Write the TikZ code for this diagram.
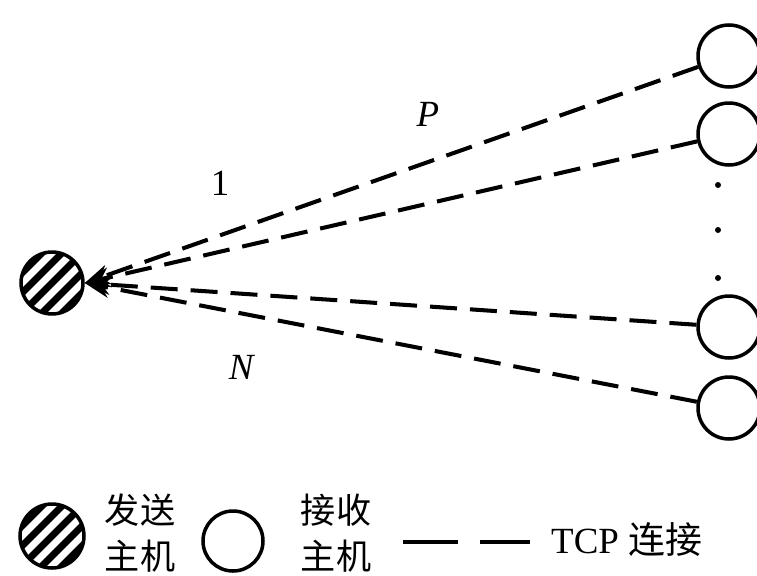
\documentclass[tikz,border=0pt]{standalone}
\usepackage{fontspec}
\setmainfont{Liberation Serif}
\newfontfamily\cjk{Noto Sans CJK SC}
\usetikzlibrary{arrows.meta}

\begin{document}
\begin{tikzpicture}[x=0.02cm,y=-0.02cm,
      sender/.style={circle,draw,line width=2pt,minimum size=1.24cm,inner sep=0pt,
      path picture={\foreach \k in {-4,...,4}{
        \draw[line width=4pt] ([shift={(\k*0.2cm-0.8cm,-\k*0.2cm-0.8cm)}]path picture bounding box.center) -- ++(1.6cm,1.6cm);}}},
      receiver/.style={circle,draw,line width=2pt,minimum size=1.24cm,inner sep=0pt},
      conn/.style={line width=2.3pt,dash pattern=on 0.54cm off 0.26cm,
      -{Stealth[length=5mm,width=4mm]}},
      lbl/.style={font=\fontsize{21}{26}\selectfont},
      legtxt/.style={font=\cjk\fontsize{20}{26}\selectfont,align=center}
    ]
    \useasboundingbox (0,0) rectangle (757,575);
    \node[sender] (snd) at (52,283) {};
    \node[receiver] (r1) at (729,56) {};
    \node[receiver] (r2) at (729,134) {};
    \node[receiver] (r3) at (729,327) {};
    \node[receiver] (r4) at (729,408) {};
    \foreach \y in {185,230,278} \fill (718,\y) circle (3);
    \draw[conn] (r1) -- (snd.east);
    \draw[conn] (r2) -- (snd.east);
    \draw[conn] (r3) -- (snd.east);
    \draw[conn] (r4) -- (snd.east);
    \node[lbl] (lp) at (428,114) {\textit{P}};
    \node[lbl] (l1) at (220,183) {1};
    \node[lbl] (ln) at (242,367) {\textit{N}};
    % legend
    \node[sender,minimum size=1.28cm] (ksnd) at (52,536) {};
    \node[legtxt] (tsnd) at (140,533) {发送\\主机};
    \node[receiver,minimum size=1.2cm] (krcv) at (233,541) {};
    \node[legtxt] (trcv) at (336,533) {接收\\主机};
    \coordinate (ka) at (403,542);
    \coordinate (kb) at (530,542);
    \draw[line width=2.3pt,dash pattern=on 1.1cm off 0.44cm] (ka) -- (kb);
    \node[lbl,anchor=west] (tcp) at (545,540) {TCP {\cjk 连接}};
  \end{tikzpicture}
\end{document}
